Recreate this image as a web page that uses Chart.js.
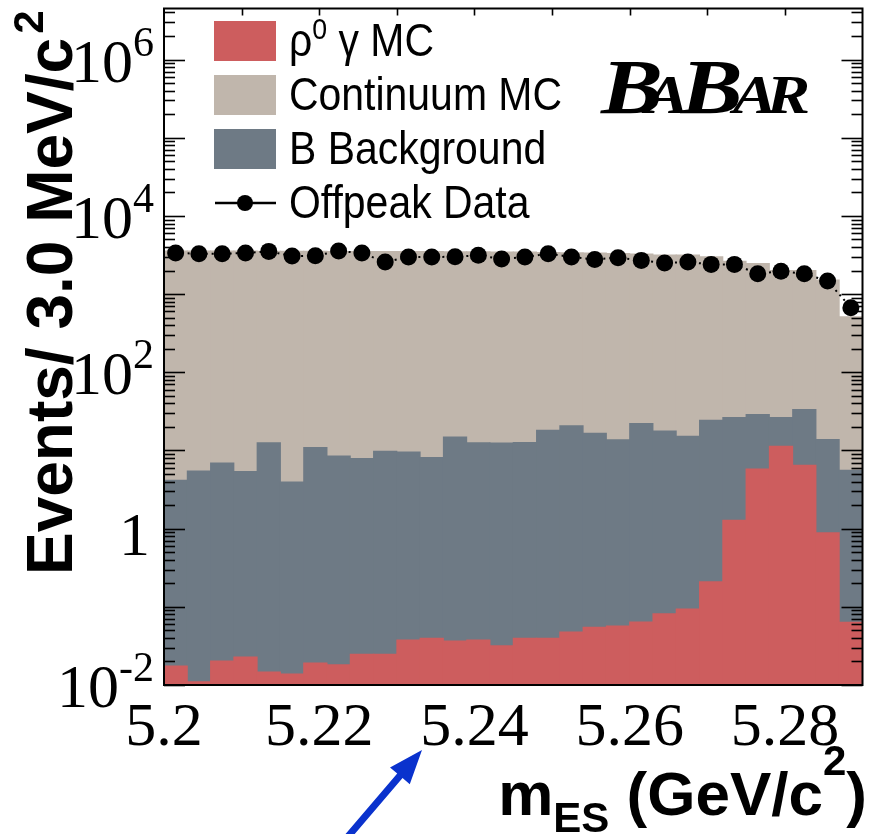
<!DOCTYPE html>
<html>
<head>
<meta charset="utf-8">
<script src="https://cdn.jsdelivr.net/npm/chart.js@4.4.1/dist/chart.umd.min.js"></script>
<style>
  html, body { margin: 0; padding: 0; background: #ffffff; }
  #wrap { width: 871px; height: 834px; position: relative; }
</style>
</head>
<body>
<div id="wrap"><canvas id="chart" width="871" height="834"></canvas></div>
<script>
// m_ES binning: 30 bins of 3 MeV/c^2 starting at 5.2 GeV/c^2
const binLow = 5.2;
const binWidth = 0.003;
const binCount = 30;

// Signal MC (rho0 gamma), events per bin
const rhoGammaMC = [0.0175, 0.0110, 0.0203, 0.0228, 0.0147, 0.0138, 0.0191, 0.0182, 0.0247, 0.0247,
                    0.0376, 0.0395, 0.0365, 0.0376, 0.0318, 0.0395, 0.0395, 0.0476, 0.0546, 0.0568,
                    0.0638, 0.0815, 0.0936, 0.209, 1.28, 5.81, 11.3, 6.48, 0.884, 0.0633];
// Generic B background, events per bin
const bBackground = [4.15, 5.47, 6.91, 5.36, 12.5, 3.95, 10.9, 8.49, 7.87, 9.76,
                     9.54, 8.08, 14.8, 12.5, 12.4, 12.6, 18.1, 20.6, 16.5, 13.7,
                     22.0, 17.7, 15.1, 24.2, 25.1, 23.0, 15.1, 26.9, 12.9, 5.53];
// Continuum (udsc) MC, events per bin
const continuumMC = [3566, 3565, 3543, 3545, 3528, 3536, 3519, 3511, 3512, 3510,
                     3490, 3492, 3465, 3468, 3448, 3437, 3382, 3359, 3333, 3286,
                     3228, 3137, 3140, 2986, 2614, 2441, 1984, 1977, 1496, 509];
// Off-resonance data, events per bin
const offpeakData = [3350, 3290, 3290, 3350, 3520, 3065, 3100, 3550, 3350, 2570,
                     2980, 2980, 3010, 3130, 2820, 2980, 3290, 2980, 2780, 2925,
                     2700, 2495, 2570, 2400, 2400, 1825, 1955, 1825, 1470, 671];

const xTickLabels = ['5.2', '5.22', '5.24', '5.26', '5.28'];
const yTickExponents = [-2, 0, 2, 4, 6];
const legendLabels = ['\u03C1|0| \u03B3 MC', 'Continuum MC', 'B Background', 'Offpeak Data'];

const colRho = 'rgb(205, 93, 94)';
const colCont = 'rgb(192, 182, 172)';
const colBkg = 'rgb(110, 122, 133)';

// cumulative stack: rho (bottom), + B background, + continuum (top)
const centers = Array.from({ length: binCount }, (_, i) => binLow + (i + 0.5) * binWidth);
const stackRho = rhoGammaMC.map((v, i) => ({ x: centers[i], y: v }));
const stackBkg = rhoGammaMC.map((v, i) => ({ x: centers[i], y: v + bBackground[i] }));
const stackAll = rhoGammaMC.map((v, i) => ({ x: centers[i], y: v + bBackground[i] + continuumMC[i] }));
const dataPts = offpeakData.map((v, i) => ({ x: centers[i], y: v }));

function barSet(label, data, color, order) {
  return {
    type: 'bar', label, data, order,
    backgroundColor: color, borderWidth: 0, inflateAmount: 0.5,
    grouped: false, barPercentage: 1.0, categoryPercentage: 1.0
  };
}

function seg(ctx, x1, y1, x2, y2) {
  ctx.beginPath(); ctx.moveTo(x1, y1); ctx.lineTo(x2, y2); ctx.stroke();
}

const decorations = {
  id: 'decorations',
  afterDatasetsDraw(chart) {
    const { ctx, chartArea: a, scales: { x, y } } = chart;
    ctx.save();
    ctx.strokeStyle = '#000';
    ctx.fillStyle = '#000';

    // log-axis ticks on left and right edges
    ctx.lineWidth = 1.6;
    for (let e = -2; e <= 7; e++) {
      for (let m = 1; m <= 9; m++) {
        const v = m * Math.pow(10, e);
        if (v < y.min || v > y.max) continue;
        const py = Math.round(y.getPixelForValue(v)) + 0.5;
        const len = m === 1 ? 21 : 11;
        seg(ctx, a.left, py, a.left + len, py);
        seg(ctx, a.right, py, a.right - len, py);
      }
    }
    // short ticks along the top edge
    for (let k = 1; k <= 8; k++) {
      const px = Math.round(x.getPixelForValue(binLow + k * 0.01)) + 0.5;
      seg(ctx, px, a.top, px, a.top + 7);
    }
    // frame
    ctx.lineWidth = 2;
    ctx.strokeRect(a.left, a.top, a.right - a.left, a.bottom - a.top);

    // x tick labels
    ctx.font = '62px "Liberation Serif"';
    ctx.textAlign = 'center';
    ctx.textBaseline = 'alphabetic';
    xTickLabels.forEach(t => {
      ctx.fillText(t, x.getPixelForValue(parseFloat(t)), 745);
    });

    // y tick labels (powers of ten)
    const rightEdge = 154;
    yTickExponents.forEach(e => {
      const py = y.getPixelForValue(Math.pow(10, e));
      if (e === 0) {
        ctx.font = '62px "Liberation Serif"';
        ctx.textAlign = 'right';
        ctx.fillText('1', 150, py + 26);
        return;
      }
      const exp = String(e);
      ctx.font = '42px "Liberation Serif"';
      const ew = ctx.measureText(exp).width;
      ctx.textAlign = 'left';
      ctx.fillText(exp, rightEdge - ew, py - 4);
      ctx.font = '62px "Liberation Serif"';
      ctx.textAlign = 'right';
      ctx.fillText('10', rightEdge - ew, py + 22);
    });

    // y axis title
    ctx.save();
    ctx.translate(72, 575);
    ctx.rotate(-Math.PI / 2);
    ctx.textAlign = 'left';
    ctx.font = 'bold 64px "Liberation Sans"';
    const yt = 'Events/ 3.0 MeV/c';
    ctx.fillText(yt, 0, 0);
    const ytw = ctx.measureText(yt).width;
    ctx.font = 'bold 42px "Liberation Sans"';
    ctx.fillText('2', ytw + 4, -29);
    ctx.restore();

    // x axis title: m_ES (GeV/c^2)
    const parts = [
      { t: 'm', f: 'bold 62px "Liberation Sans"', dy: 0 },
      { t: 'ES', f: 'bold 42px "Liberation Sans"', dy: 17 },
      { t: ' (GeV/c', f: 'bold 62px "Liberation Sans"', dy: 0 },
      { t: '2', f: 'bold 42px "Liberation Sans"', dy: -40 },
      { t: ')', f: 'bold 62px "Liberation Sans"', dy: 0 }
    ];
    let total = 0;
    parts.forEach(p => { ctx.font = p.f; p.w = ctx.measureText(p.t).width; total += p.w; });
    let cx = 867 - total;
    ctx.textAlign = 'left';
    parts.forEach(p => { ctx.font = p.f; ctx.fillText(p.t, cx, 815 + p.dy); cx += p.w; });

    // legend
    const rowY = [41, 95, 149, 203];
    const boxCols = [colRho, colCont, colBkg];
    for (let r = 0; r < 3; r++) {
      ctx.fillStyle = boxCols[r];
      ctx.fillRect(214, rowY[r] - 20, 62, 40);
    }
    ctx.fillStyle = '#000';
    ctx.lineWidth = 2.5;
    seg(ctx, 215, rowY[3], 276, rowY[3]);
    ctx.beginPath(); ctx.arc(245, rowY[3], 8, 0, Math.PI * 2); ctx.fill();

    const sx = 0.89;
    legendLabels.forEach((lab, r) => {
      ctx.save();
      ctx.translate(289, rowY[r] + 15);
      ctx.scale(sx, 1);
      ctx.textAlign = 'left';
      let px = 0;
      lab.split('|').forEach((piece, k) => {
        const sup = k === 1;
        ctx.font = sup ? '30px "Liberation Sans"' : '46px "Liberation Sans"';
        ctx.fillText(piece, px, sup ? -17 : 0);
        px += ctx.measureText(piece).width;
      });
      ctx.restore();
    });

    // experiment logo (small-caps style)
    const logo = [
      { t: 'B', s: 78, x: 0 }, { t: 'A', s: 55, x: 37 },
      { t: 'B', s: 78, x: 67 }, { t: 'A', s: 55, x: 111 }, { t: 'R', s: 55, x: 139 }
    ];
    ctx.save();
    ctx.translate(601, 113);
    ctx.scale(1.19, 1);
    logo.forEach(l => {
      ctx.font = 'italic bold ' + l.s + 'px "Liberation Serif"';
      ctx.fillText(l.t, l.x, 0);
    });
    ctx.restore();

    // arrow
    const tip = [422, 750], tail = [345, 840];
    const dx = tip[0] - tail[0], dy = tip[1] - tail[1];
    const L = Math.hypot(dx, dy), ux = dx / L, uy = dy / L, nx = -uy, ny = ux;
    const hl = 34, hw = 13, sw = 3.5;
    const bx = tip[0] - ux * hl, by = tip[1] - uy * hl;
    ctx.fillStyle = 'rgb(10, 50, 205)';
    ctx.beginPath();
    ctx.moveTo(tail[0] + nx * sw, tail[1] + ny * sw);
    ctx.lineTo(bx + nx * sw, by + ny * sw);
    ctx.lineTo(bx + nx * hw, by + ny * hw);
    ctx.lineTo(tip[0], tip[1]);
    ctx.lineTo(bx - nx * hw, by - ny * hw);
    ctx.lineTo(bx - nx * sw, by - ny * sw);
    ctx.lineTo(tail[0] - nx * sw, tail[1] - ny * sw);
    ctx.closePath();
    ctx.fill();

    ctx.restore();
  }
};

new Chart(document.getElementById('chart'), {
  type: 'bar',
  data: {
    datasets: [
      {
        type: 'line', label: 'Offpeak Data', data: dataPts, order: 0,
        borderColor: '#000', borderWidth: 2, borderDash: [2, 4], tension: 0,
        pointRadius: 8.5, pointBackgroundColor: '#000', pointBorderWidth: 0, fill: false
      },
      barSet('\u03C1\u2070 \u03B3 MC', stackRho, colRho, 1),
      barSet('B Background', stackBkg, colBkg, 2),
      barSet('Continuum MC', stackAll, colCont, 3)
    ]
  },
  options: {
    responsive: false,
    devicePixelRatio: 1,
    animation: false,
    layout: { padding: { left: 164, top: 8, right: 5, bottom: 149 } },
    plugins: { legend: { display: false }, tooltip: { enabled: false } },
    scales: {
      x: { type: 'linear', min: 5.2, max: 5.29, offset: false, display: false },
      y: { type: 'logarithmic', min: 0.01, max: 4.5e6, display: false }
    }
  },
  plugins: [decorations]
});
</script>
</body>
</html>
